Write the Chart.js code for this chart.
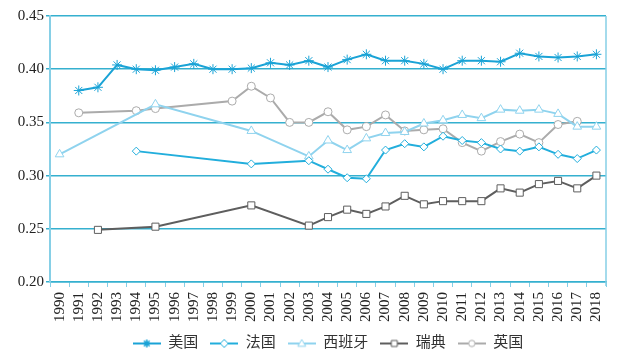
<!DOCTYPE html>
<html>
<head>
<meta charset="utf-8">
<script src="https://cdn.jsdelivr.net/npm/chart.js@4.4.1/dist/chart.umd.min.js"></script>
<style>
  html, body { margin: 0; padding: 0; background: #fff; }
  #wrap { width: 622px; height: 361px; }
</style>
</head>
<body>
<div id="wrap"><canvas id="chart"></canvas></div>
<script>
const years = ['1990', '1991', '1992', '1993', '1994', '1995', '1996', '1997', '1998', '1999',
  '2000', '2001', '2002', '2003', '2004', '2005', '2006', '2007', '2008', '2009',
  '2010', '2011', '2012', '2013', '2014', '2015', '2016', '2017', '2018'];

const usa = [null, 0.380, 0.383, 0.404, 0.400, 0.399, 0.402, 0.405, 0.400, 0.400,
  0.401, 0.406, 0.404, 0.408, 0.402, 0.409, 0.414, 0.408, 0.408, 0.405,
  0.400, 0.408, 0.408, 0.407, 0.415, 0.412, 0.411, 0.412, 0.414];

const france = [null, null, null, null, 0.323, null, null, null, null, null,
  0.311, null, null, 0.314, 0.306, 0.298, 0.297, 0.324, 0.330, 0.327,
  0.337, 0.333, 0.331, 0.325, 0.323, 0.327, 0.320, 0.316, 0.324];

const spain = [0.320, null, null, null, null, 0.367, null, null, null, null,
  0.342, null, null, 0.318, 0.333, 0.324, 0.335, 0.340, 0.341, 0.349,
  0.352, 0.357, 0.354, 0.362, 0.361, 0.362, 0.358, 0.346, 0.346];

const sweden = [null, null, 0.249, null, null, 0.252, null, null, null, null,
  0.272, null, null, 0.253, 0.261, 0.268, 0.264, 0.271, 0.281, 0.273,
  0.276, 0.276, 0.276, 0.288, 0.284, 0.292, 0.295, 0.288, 0.300];

const uk = [null, 0.359, null, null, 0.361, 0.363, null, null, null, 0.370,
  0.384, 0.373, 0.350, 0.350, 0.360, 0.343, 0.346, 0.357, 0.342, 0.343,
  0.344, 0.331, 0.323, 0.332, 0.339, 0.331, 0.348, 0.351, null];

const yTicks = [0.20, 0.25, 0.30, 0.35, 0.40, 0.45];

const gridColor = '#35b0cf';
const borderLight = '#86cfe6';
const serif = '"Liberation Serif", "Noto Sans CJK SC", serif';

// marker drawn on a small canvas so the legend shows line + symbol
function drawMarker(ctx, style, x, y, r, color) {
  ctx.strokeStyle = color;
  ctx.fillStyle = '#fff';
  ctx.lineWidth = 1;
  ctx.beginPath();
  if (style === 'star') {
    for (let a = 0; a < 4; a++) {
      const t = a * Math.PI / 4;
      ctx.moveTo(x - Math.cos(t) * r, y - Math.sin(t) * r);
      ctx.lineTo(x + Math.cos(t) * r, y + Math.sin(t) * r);
    }
    ctx.lineWidth = 1.5;
    ctx.stroke();
    return;
  }
  if (style === 'rectRot') {
    ctx.moveTo(x, y - r); ctx.lineTo(x + r, y); ctx.lineTo(x, y + r); ctx.lineTo(x - r, y); ctx.closePath();
  } else if (style === 'triangle') {
    ctx.moveTo(x, y - r); ctx.lineTo(x + r, y + r * 0.7); ctx.lineTo(x - r, y + r * 0.7); ctx.closePath();
  } else if (style === 'rect') {
    ctx.rect(x - r * 0.75, y - r * 0.75, r * 1.5, r * 1.5);
  } else {
    ctx.arc(x, y, r * 0.8, 0, Math.PI * 2);
  }
  ctx.fill();
  ctx.stroke();
}

function legendIcon(style, color) {
  const c = document.createElement('canvas');
  c.width = 28; c.height = 12;
  const ctx = c.getContext('2d');
  ctx.strokeStyle = color;
  ctx.lineWidth = 2;
  ctx.beginPath();
  ctx.moveTo(0, 6); ctx.lineTo(28, 6);
  ctx.stroke();
  drawMarker(ctx, style, 14, 6, 4, color);
  return c;
}

function series(label, data, color, style, radius) {
  return {
    label: label,
    data: data,
    borderColor: color,
    backgroundColor: color,
    borderWidth: 2,
    pointStyle: style,
    pointRadius: radius,
    pointHoverRadius: radius,
    pointBorderColor: color,
    pointBackgroundColor: '#fff',
    pointBorderWidth: 1,
    spanGaps: true,
    tension: 0,
    legendIcon: legendIcon(style, color)
  };
}

// right border of the plot area
const frame = {
  id: 'frame',
  afterDraw(chart) {
    const a = chart.chartArea;
    const ctx = chart.ctx;
    ctx.save();
    ctx.strokeStyle = borderLight;
    ctx.lineWidth = 1.5;
    ctx.beginPath();
    ctx.moveTo(a.right, a.top);
    ctx.lineTo(a.right, a.bottom + 4);
    ctx.stroke();
    ctx.restore();
  }
};

new Chart(document.getElementById('chart'), {
  type: 'line',
  data: {
    labels: years,
    datasets: [
      series('美国', usa, '#1aa3d6', 'star', 5),
      series('法国', france, '#22aedc', 'rectRot', 4),
      series('西班牙', spain, '#8fd3ee', 'triangle', 5),
      series('瑞典', sweden, '#5e5e5e', 'rect', 5),
      series('英国', uk, '#ababab', 'circle', 4)
    ]
  },
  options: {
    responsive: true,
    maintainAspectRatio: false,
    animation: false,
    layout: { padding: { top: 16, right: 16, left: 0, bottom: 0 } },
    scales: {
      x: {
        offset: true,
        afterFit(scale) {
          scale.height = 42;
        },
        grid: {
          display: true,
          drawOnChartArea: false,
          drawTicks: true,
          tickLength: 5,
          color: borderLight,
          offset: true
        },
        border: { display: true, color: gridColor, width: 1.5 },
        ticks: {
          color: '#222',
          font: { family: serif, size: 15 },
          minRotation: 90,
          maxRotation: 90,
          autoSkip: false,
          padding: 5
        }
      },
      y: {
        min: 0.20,
        max: 0.45,
        afterBuildTicks(scale) {
          scale.ticks = yTicks.map(v => ({ value: v }));
        },
        afterFit(scale) {
          scale.width = 50;
        },
        grid: {
          color: gridColor,
          lineWidth: 1.5,
          drawTicks: true,
          tickLength: 4
        },
        border: { display: true, color: borderLight, width: 2 },
        ticks: {
          color: '#222',
          font: { family: serif, size: 15 },
          padding: 2,
          callback: v => v.toFixed(2)
        }
      }
    },
    plugins: {
      legend: {
        position: 'bottom',
        fullSize: false,
        labels: {
          usePointStyle: true,
          pointStyleWidth: 28,
          color: '#333',
          font: { family: serif, size: 15 },
          padding: 12,
          generateLabels(chart) {
            return chart.data.datasets.map((ds, i) => ({
              text: ds.label,
              pointStyle: ds.legendIcon,
              fillStyle: ds.borderColor,
              strokeStyle: ds.borderColor,
              lineWidth: 0,
              fontColor: '#333',
              datasetIndex: i,
              hidden: false
            }));
          }
        }
      },
      tooltip: { enabled: false }
    }
  },
  plugins: [frame]
});
</script>
</body>
</html>
